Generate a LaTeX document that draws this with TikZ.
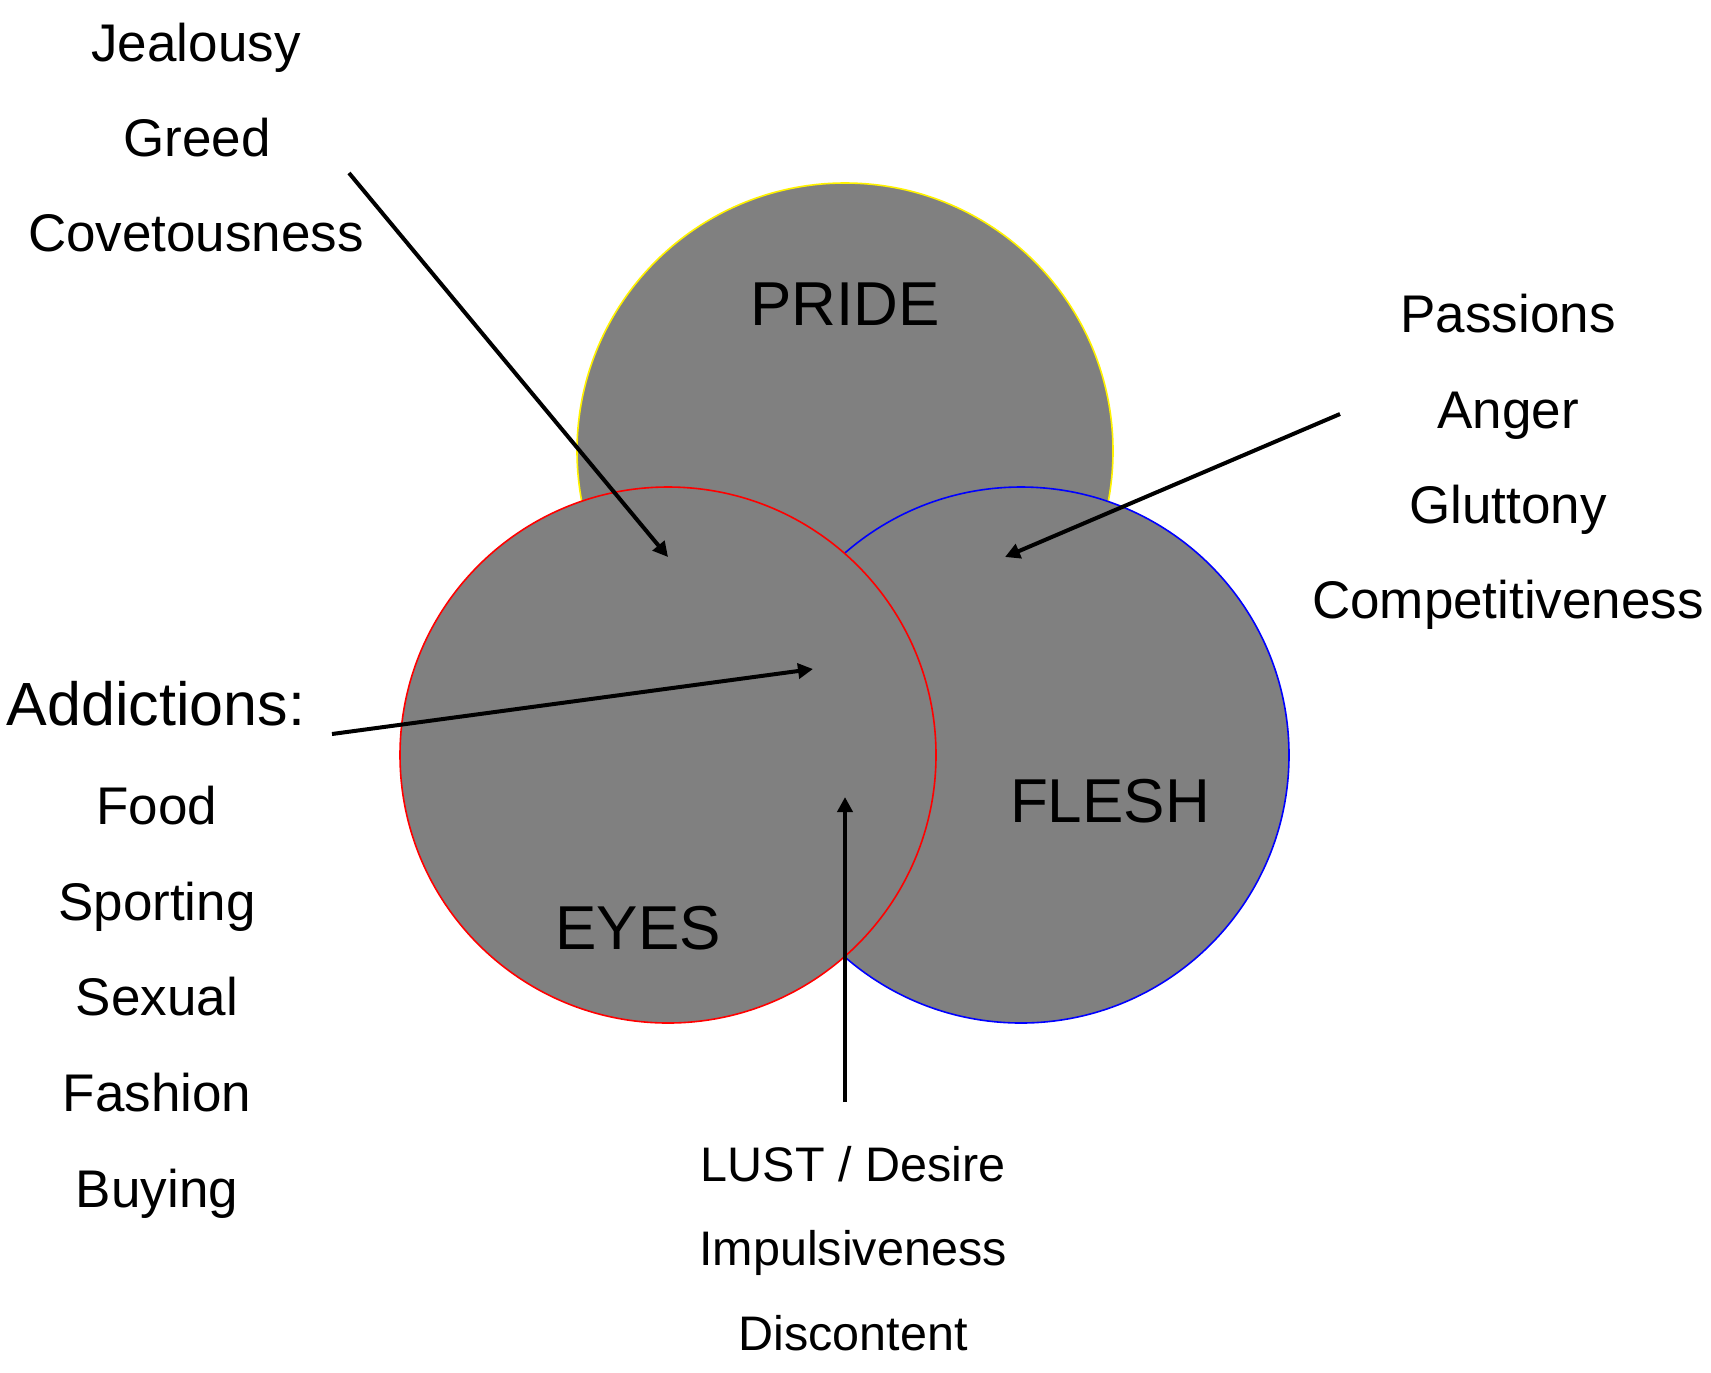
\documentclass[tikz,border=0pt]{standalone}
\usepackage{fontspec}
\setmainfont{Liberation Sans}
\usetikzlibrary{arrows.meta}
\definecolor{fillgray}{RGB}{128,128,128}
\begin{document}
\begin{tikzpicture}[x=0.5pt,y=-0.5pt,
  lbl/.style={anchor=base,inner sep=0pt,font=\fontsize{26.5pt}{30pt}\selectfont},
  big/.style={anchor=base,inner sep=0pt,font=\fontsize{31pt}{36pt}\selectfont},
  small/.style={anchor=base,inner sep=0pt,font=\fontsize{24.25pt}{28pt}\selectfont},
  ring/.style={circle,fill=fillgray,line width=0.8pt,minimum size=268pt,inner sep=0pt},
  arr/.style={line width=2pt,-{Triangle[length=7.5pt,width=7.5pt]}}]
\useasboundingbox (0,0) rectangle (1711,1372);
% circles
\node[ring,draw=yellow] (pride) at (845,451) {};
\node[ring,draw=blue] (flesh) at (1021,755) {};
\node[ring,draw=red] (eyes) at (668,755) {};
% circle labels
\node[big] (tpride) at (845,325) {PRIDE};
\node[big] (tflesh) at (1110,822) {FLESH};
\node[big] (teyes) at (638,949) {EYES};
% top-left list
\node[lbl] (jeal) at (196,61) {Jealousy};
\node[lbl] (greed) at (197,156) {Greed};
\node[lbl] (covet) at (196,251) {Covetousness};
% right list
\node[lbl] (pass) at (1508,332) {Passions};
\node[lbl] (anger) at (1508,428) {Anger};
\node[lbl] (glut) at (1508,523) {Gluttony};
\node[lbl] (comp) at (1508,618) {Competitiveness};
% left list
\node[anchor=base,inner sep=0pt,font=\fontsize{30.5pt}{35pt}\selectfont] (addic) at (156,725) {Addictions:};
\node[lbl] (food) at (157,824) {Food};
\node[lbl] (sport) at (157,920) {Sporting};
\node[lbl] (sex) at (157,1015) {Sexual};
\node[lbl] (fash) at (157,1111) {Fashion};
\node[lbl] (buy) at (157,1207) {Buying};
% bottom list
\node[small] (lust) at (853,1181) {LUST / Desire};
\node[small] (impul) at (853,1265) {Impulsiveness};
\node[small] (disc) at (853,1350) {Discontent};
% arrows
\coordinate (a1s) at (349,173);
\coordinate (a1e) at (668,557);
\coordinate (a2s) at (1340,414);
\coordinate (a2e) at (1005,557);
\coordinate (a3s) at (332,734);
\coordinate (a3e) at (813,669);
\coordinate (a4s) at (845,1102);
\coordinate (a4e) at (845,797);
\draw[arr] (a1s) -- (a1e);
\draw[arr] (a2s) -- (a2e);
\draw[arr] (a3s) -- (a3e);
\draw[arr] (a4s) -- (a4e);
\end{tikzpicture}
\end{document}
